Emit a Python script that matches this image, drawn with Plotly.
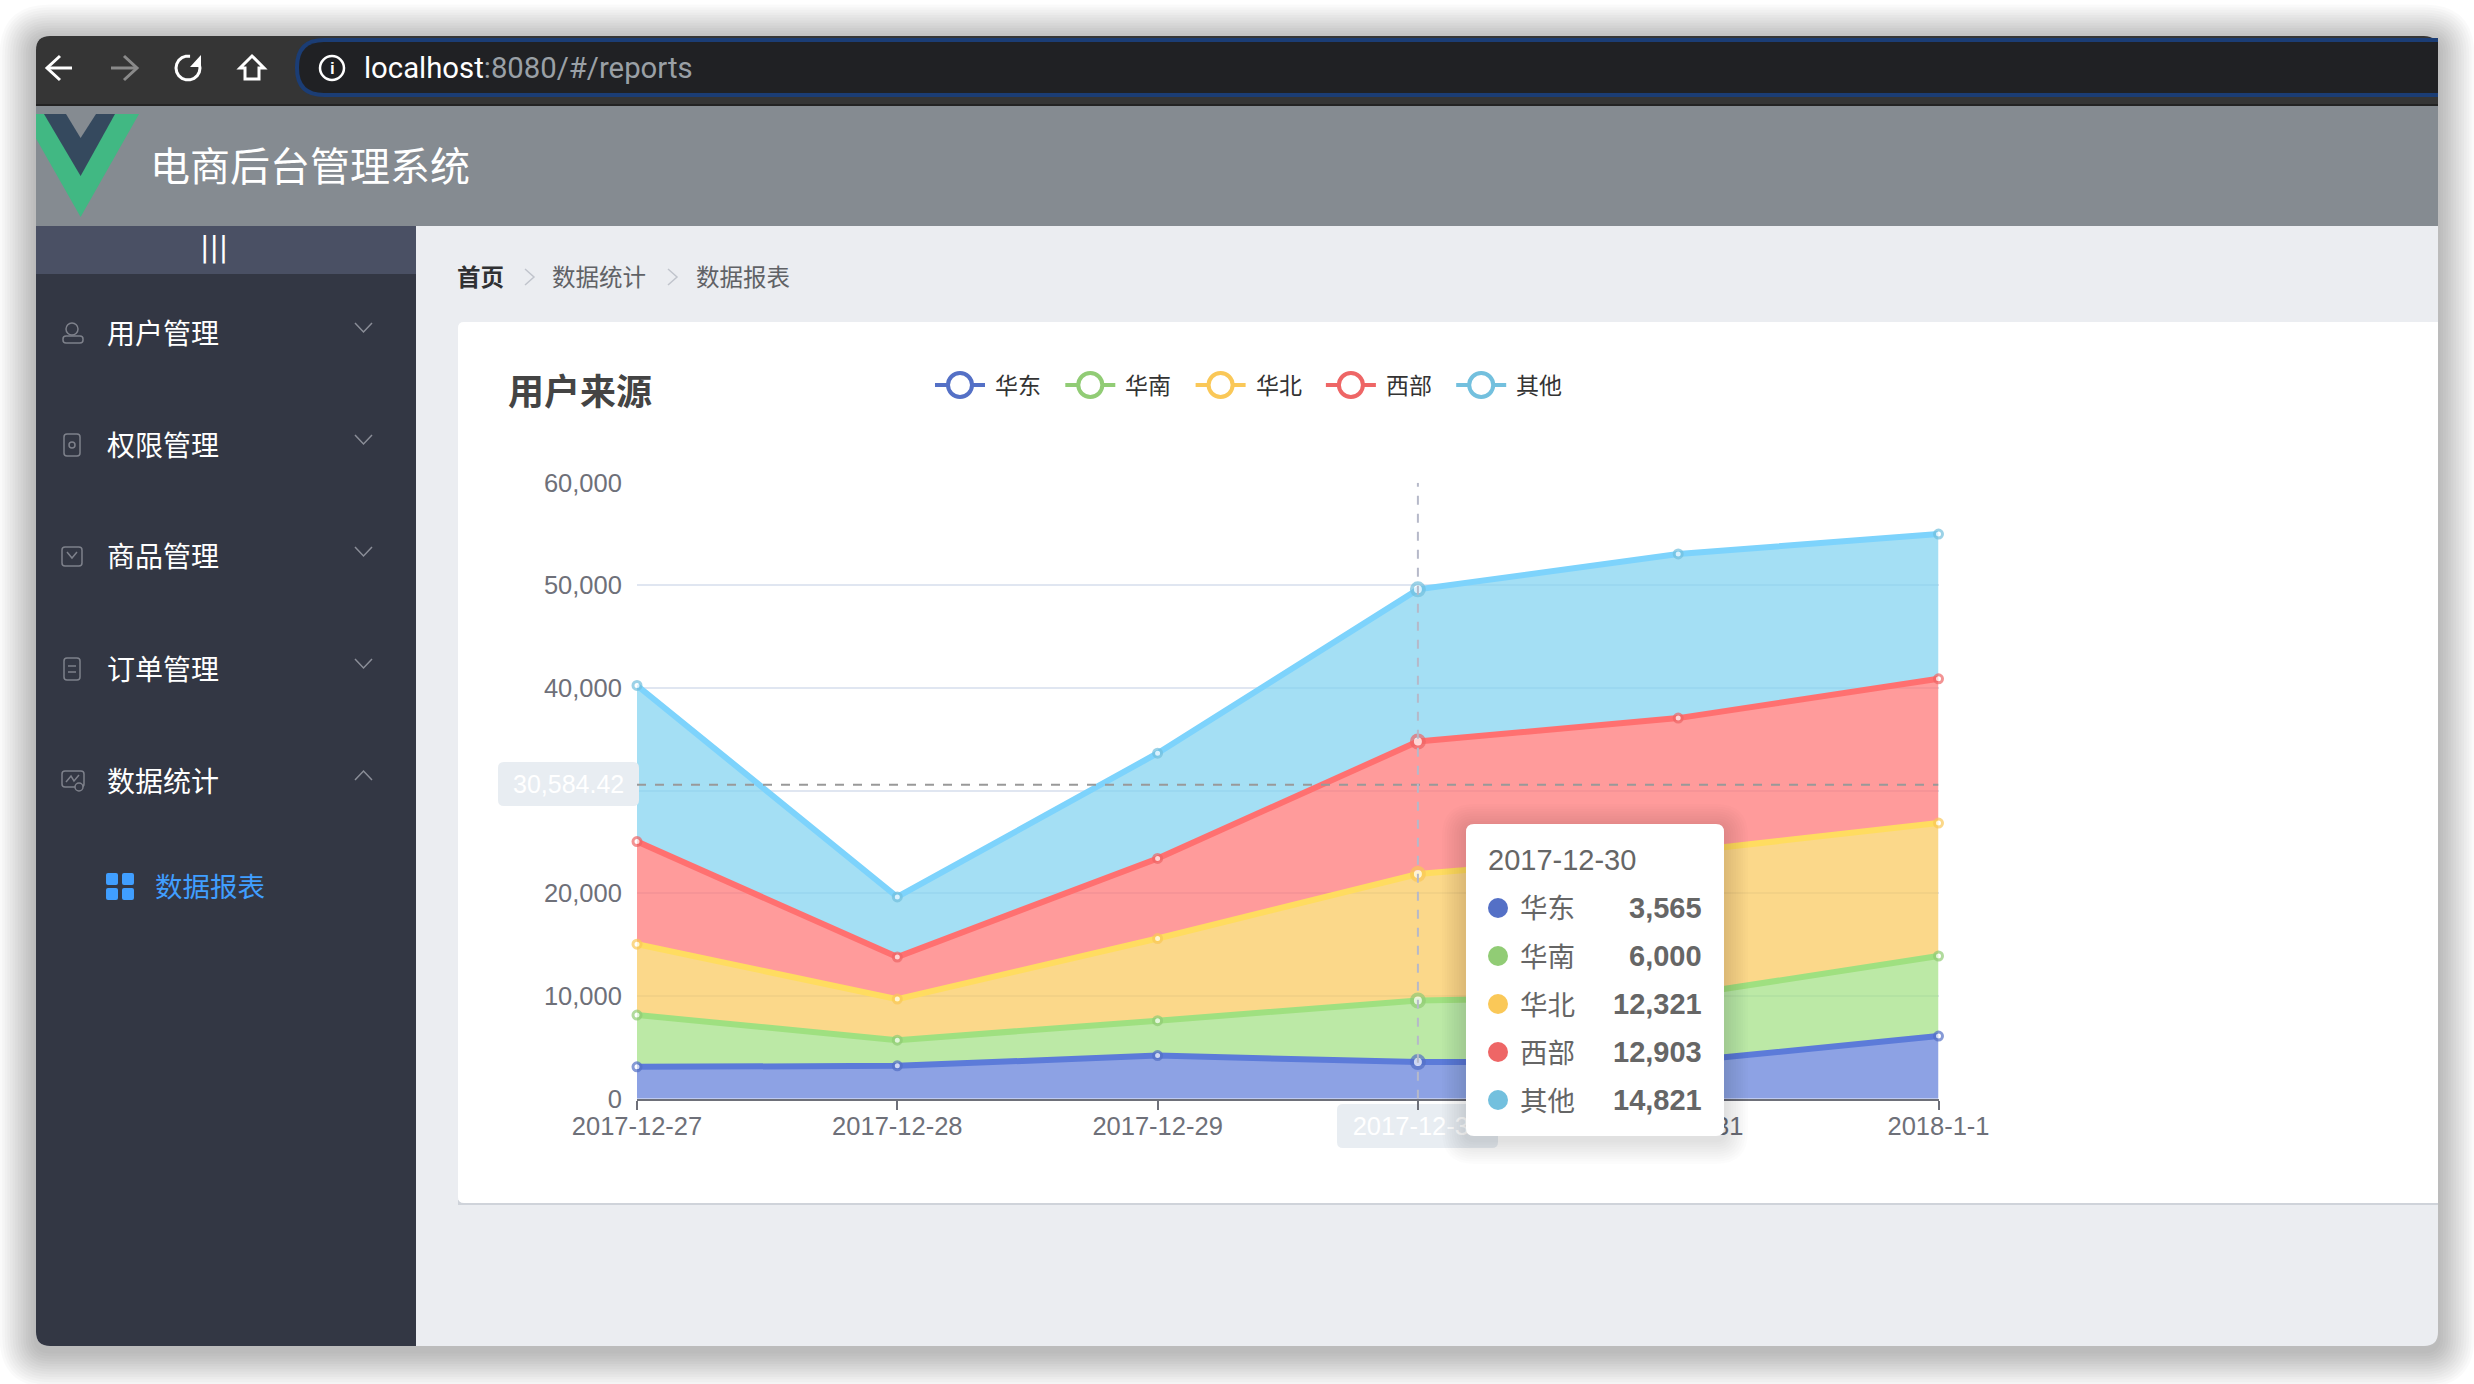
import math
import plotly.graph_objects as go

W = 2474
H = 1384

days = ['2017-12-27', '2017-12-28', '2017-12-29', '2017-12-30', '2017-12-31', '2018-1-1']
names = ['华东', '华南', '华北', '西部', '其他']
east = [3100, 3200, 4200, 3565, 3600, 6100]
south = [5050, 2500, 3400, 6000, 6400, 7800]
north = [6900, 4000, 8000, 12321, 14000, 12950]
west = [10000, 4100, 7800, 12903, 13070, 14050]
other = [15200, 5850, 10250, 14821, 15990, 14100]
series = [east, south, north, west, other]

y_ticks = [0, 10000, 20000, 30000, 40000, 50000, 60000]
pointer_value = 30584.42
active = 3

menu_items = ['用户管理', '权限管理', '商品管理', '订单管理', '数据统计']
crumbs = ['首页', '数据统计', '数据报表']

line_colors = ['#5c7bd9', '#9fe080', '#ffdc60', '#ff7070', '#7dd3fc']
dot_colors = ['#5470c6', '#91cc75', '#fac858', '#ee6666', '#73c0de']
fill_colors = ['rgba(92,123,217,0.7)', 'rgba(159,224,128,0.7)', 'rgba(250,200,88,0.7)',
               'rgba(255,112,112,0.7)', 'rgba(125,210,240,0.7)']

FONT = 'Liberation Sans, Noto Sans CJK SC'
CJK = 'Noto Sans CJK SC'
AXIS = '#6e7079'


def fx(x):
    return x / W


def fy(y):
    return 1 - y / H


def poly(pts, closed=True):
    d = 'M ' + ' L '.join(f'{fx(x):.5f} {fy(y):.5f}' for x, y in pts)
    return d + (' Z' if closed else '')


def rrect(x0, y0, x1, y1, tl=0, tr=0, br=0, bl=0):
    def q(cx, cy, x, y):
        return f'Q {fx(cx):.5f} {fy(cy):.5f} {fx(x):.5f} {fy(y):.5f}'
    def l(x, y):
        return f'L {fx(x):.5f} {fy(y):.5f}'
    return ' '.join([
        f'M {fx(x0 + tl):.5f} {fy(y0):.5f}',
        l(x1 - tr, y0), q(x1, y0, x1, y0 + tr),
        l(x1, y1 - br), q(x1, y1, x1 - br, y1),
        l(x0 + bl, y1), q(x0, y1, x0, y1 - bl),
        l(x0, y0 + tl), q(x0, y0, x0 + tl, y0), 'Z',
    ])


shapes = []
notes = []


def add(path, fill='rgba(0,0,0,0)', line=None, lw=0, layer='below', opacity=1):
    shapes.append(dict(type='path', xref='paper', yref='paper', path=path, fillcolor=fill,
                       line=dict(color=line or 'rgba(0,0,0,0)', width=lw), layer=layer, opacity=opacity))


def circle(cx, cy, r, fill='rgba(0,0,0,0)', line=None, lw=0, layer='below'):
    shapes.append(dict(type='circle', xref='paper', yref='paper', x0=fx(cx - r), x1=fx(cx + r),
                       y0=fy(cy + r), y1=fy(cy - r), fillcolor=fill,
                       line=dict(color=line or 'rgba(0,0,0,0)', width=lw), layer=layer))


def text(x, y, s, size, color, anchor='left', family=FONT):
    # Noto CJK sits a little low against the middle anchor
    if family == CJK:
        y -= 1.5
    notes.append(dict(xref='paper', yref='paper', x=fx(x), y=fy(y), text=s, showarrow=False,
                      xanchor=anchor, yanchor='middle', borderpad=0, borderwidth=0,
                      font=dict(size=size, color=color, family=family)))


# window and its shadow
for k in range(14, 0, -1):
    e = k * 2.6
    add(rrect(36 - e, 36 - e + 5, 2438 + e, 1346 + e + 5, 14 + e, 14 + e, 14 + e, 14 + e),
        fill='rgba(0,0,0,0.019)')
add(rrect(36, 36, 2438, 1346, 14, 14, 14, 14), fill='#ebedf1')
add(rrect(36, 36, 2438, 106, 14, 14, 0, 0), fill='#353535')
add(rrect(36, 104, 2438, 106), fill='#232323')
add(rrect(295, 38, 2438, 97, 29, 0, 0, 29), fill='#1b3d75')
add(rrect(299, 42, 2438, 93, 25, 0, 0, 25), fill='#202124')

# browser buttons
add(poly([(47, 68), (72, 68)], False), line='#ffffff', lw=3)
add(poly([(60, 56), (47, 68), (60, 80)], False), line='#ffffff', lw=3)
add(poly([(111, 68), (137, 68)], False), line='#8a8a8a', lw=3)
add(poly([(124, 56), (137, 68), (124, 80)], False), line='#8a8a8a', lw=3)
arc = [(188 + 12 * math.cos(math.radians(a)), 68 + 12 * math.sin(math.radians(a))) for a in range(-40, 300, 20)]
add(poly(arc, False), line='#ffffff', lw=3)
add(poly([(201, 55), (201, 67), (190, 67)]), fill='#ffffff')
add(poly([(252, 56), (264, 68), (259, 68), (259, 79), (245, 79), (245, 68), (240, 68)]), line='#ffffff', lw=3)
circle(332, 68, 12, line='#ffffff', lw=2.5)
text(332, 68, '<b>i</b>', 17, '#ffffff', 'center')
text(364, 68, 'localhost<span style="color:#9aa0a6">:8080/#/reports</span>', 29.3, '#ffffff', family='Roboto')

# page header with the logo
add(rrect(36, 106, 2438, 226), fill='#858b91')
add(poly([(36, 114), (139, 114), (80.6, 217), (36, 138.6)]), fill='#41b883')
add(poly([(44, 114), (115, 114), (80.6, 176)]), fill='#35495e')
add(poly([(66, 114), (96, 114), (80.6, 138)]), fill='#858b91')
text(150, 165, '电商后台管理系统', 40, '#ffffff', family=CJK)

# sidebar
add(rrect(36, 226, 416, 1346, 0, 0, 0, 14), fill='#333744')
add(rrect(36, 226, 416, 274), fill='#4a5064')
text(214, 248, '|||', 28, '#ffffff', 'center', family='DejaVu Sans')

ICON = '#7e818b'
add(rrect(63, 336, 83, 343, 3, 3, 3, 3), line=ICON, lw=1.5)
circle(72, 329, 6, line=ICON, lw=1.5)
add(rrect(64, 434, 80, 456, 3, 3, 3, 3), line=ICON, lw=1.5)
circle(72, 445, 3, line=ICON, lw=1.5)
add(rrect(62, 547, 82, 566, 3, 3, 3, 3), line=ICON, lw=1.5)
add(poly([(67, 552), (72, 558), (77, 552)], False), line=ICON, lw=1.5)
add(rrect(64, 658, 80, 680, 3, 3, 3, 3), line=ICON, lw=1.5)
add(poly([(68, 666), (76, 666)], False), line=ICON, lw=1.5)
add(poly([(68, 672), (76, 672)], False), line=ICON, lw=1.5)
add(rrect(62, 771, 84, 787, 3, 3, 3, 3), line=ICON, lw=1.5)
add(poly([(66, 782), (71, 776), (74, 781), (79, 775)], False), line=ICON, lw=1.5)
circle(79, 787, 4, fill='#333744', line=ICON, lw=1.5)

for i, item in enumerate(menu_items):
    row = 333 + i * 112
    text(107, row, item, 28, '#ffffff', family=CJK)
    if i < 4:
        add(poly([(355, row - 10), (363.5, row - 1), (372, row - 10)], False), line='#8b8e98', lw=1.5)
    else:
        add(poly([(355, row - 1), (363.5, row - 10), (372, row - 1)], False), line='#8b8e98', lw=1.5)

for x0 in (106, 122):
    for y0 in (873, 888):
        add(rrect(x0, y0, x0 + 12, y0 + 12, 2, 2, 2, 2), fill='#409eff')
text(155, 887, '数据报表', 27.5, '#409eff', family=CJK)

# breadcrumb
text(457, 277, '<b>' + crumbs[0] + '</b>', 23.5, '#303133', family=CJK)
text(552, 277, crumbs[1], 23.5, '#606266', family=CJK)
text(696, 277, crumbs[2], 23.5, '#606266', family=CJK)
for x in (525, 668):
    add(poly([(x, 269), (x + 9, 277), (x, 285)], False), line='#c0c4cc', lw=1.5)

# card
add(rrect(458, 1200, 2438, 1205), fill='#cfd3da')
add(rrect(458, 322, 2438, 1203, 6, 0, 0, 6), fill='#ffffff')
text(508, 390, '<b>用户来源</b>', 36, '#444444', family=CJK)

# legend row
for i, name in enumerate(names):
    x = 935 + i * 130.3
    add(poly([(x, 385), (x + 50, 385)], False), line=dot_colors[i], lw=4, layer='above')
    circle(x + 25, 385, 12, fill='#ffffff', line=dot_colors[i], lw=4, layer='above')
    text(x + 60, 385, name, 23, '#333333', family=CJK)

# label boxes of the axis pointer
add(rrect(498, 762, 639, 806, 6, 6, 6, 6), fill='#e8edf2', layer='above')
text(568, 784, f'{pointer_value:,.2f}', 25, '#ffffff', 'center')
add(rrect(1337, 1104, 1498, 1148, 6, 6, 6, 6), fill='#e8edf2')

fig = go.Figure()

for i, name in enumerate(names):
    fig.add_trace(go.Scatter(
        x=days, y=series[i], name=name, stackgroup='one', mode='lines+markers', cliponaxis=False,
        line=dict(color=line_colors[i], width=6), fillcolor=fill_colors[i],
        marker=dict(color='#ffffff', size=[12 if j == active else 8 for j in range(len(days))],
                    line=dict(color=dot_colors[i], width=[4 if j == active else 3 for j in range(len(days))])),
        showlegend=False))

# crosshair
shapes.append(dict(type='line', xref='x', yref='y', x0=days[0], x1=days[-1], y0=pointer_value, y1=pointer_value,
                   line=dict(color='#999999', width=2, dash='dash'), layer='above'))
shapes.append(dict(type='line', xref='x', yref='y', x0=days[active], x1=days[active], y0=0, y1=y_ticks[-1],
                   line=dict(color='#b6b9c9', width=2, dash='dash'), layer='above'))

# tooltip
for k in range(10, 0, -1):
    e = k * 2.4
    add(rrect(1466 - e, 824 - e + 4, 1724 + e, 1136 + e + 4, 8 + e, 8 + e, 8 + e, 8 + e),
        fill='rgba(0,0,0,0.012)', layer='above')
add(rrect(1466, 824, 1724, 1136, 8, 8, 8, 8), fill='#ffffff', layer='above')
text(1488, 860, days[active], 29, '#666666')
for i, name in enumerate(names):
    row = 908 + i * 48
    circle(1498, row, 10, fill=dot_colors[i], layer='above')
    text(1520, row, name, 27.5, '#666666', family=CJK)
    text(1702, row, f'<b>{series[i][active]:,}</b>', 29, '#666666', 'right')

fig.update_layout(
    width=W, height=H, margin=dict(l=0, r=0, t=0, b=0, autoexpand=False), autosize=False,
    paper_bgcolor='#ffffff', plot_bgcolor='rgba(0,0,0,0)',
    font=dict(family=FONT), shapes=shapes, annotations=notes, showlegend=False,
    hovermode=False)

# the pointer boxes sit over two tick labels in the reference
x_labels = [f'<span style="color:#ffffff">{d}</span>' if j == active else d for j, d in enumerate(days)]
y_labels = ['' if v == 30000 else f'{v:,}' for v in y_ticks]

fig.update_xaxes(domain=[fx(637), fx(1938.5)], type='category', categoryorder='array', categoryarray=days,
                 range=[0, 5], tickmode='array', tickvals=days, ticktext=x_labels, automargin=False,
                 showgrid=False, zeroline=False, showline=True, linecolor=AXIS, linewidth=2,
                 ticks='outside', ticklen=9, tickwidth=2, tickcolor=AXIS, ticklabelstandoff=-5,
                 tickfont=dict(size=25.5, color=AXIS, family=FONT))
fig.update_yaxes(domain=[fy(1098.7), fy(482.7)], range=[0, y_ticks[-1]], tickmode='array', tickvals=y_ticks,
                 ticktext=y_labels, automargin=False, showgrid=True, gridcolor='#e0e6f1', gridwidth=2,
                 zeroline=False, showline=False, ticks='outside', ticklen=9, tickcolor='rgba(0,0,0,0)',
                 tickfont=dict(size=25.5, color=AXIS, family=FONT))

fig.write_html('out.html', config={'displayModeBar': False}, post_script="document.body.style.margin='0';")
